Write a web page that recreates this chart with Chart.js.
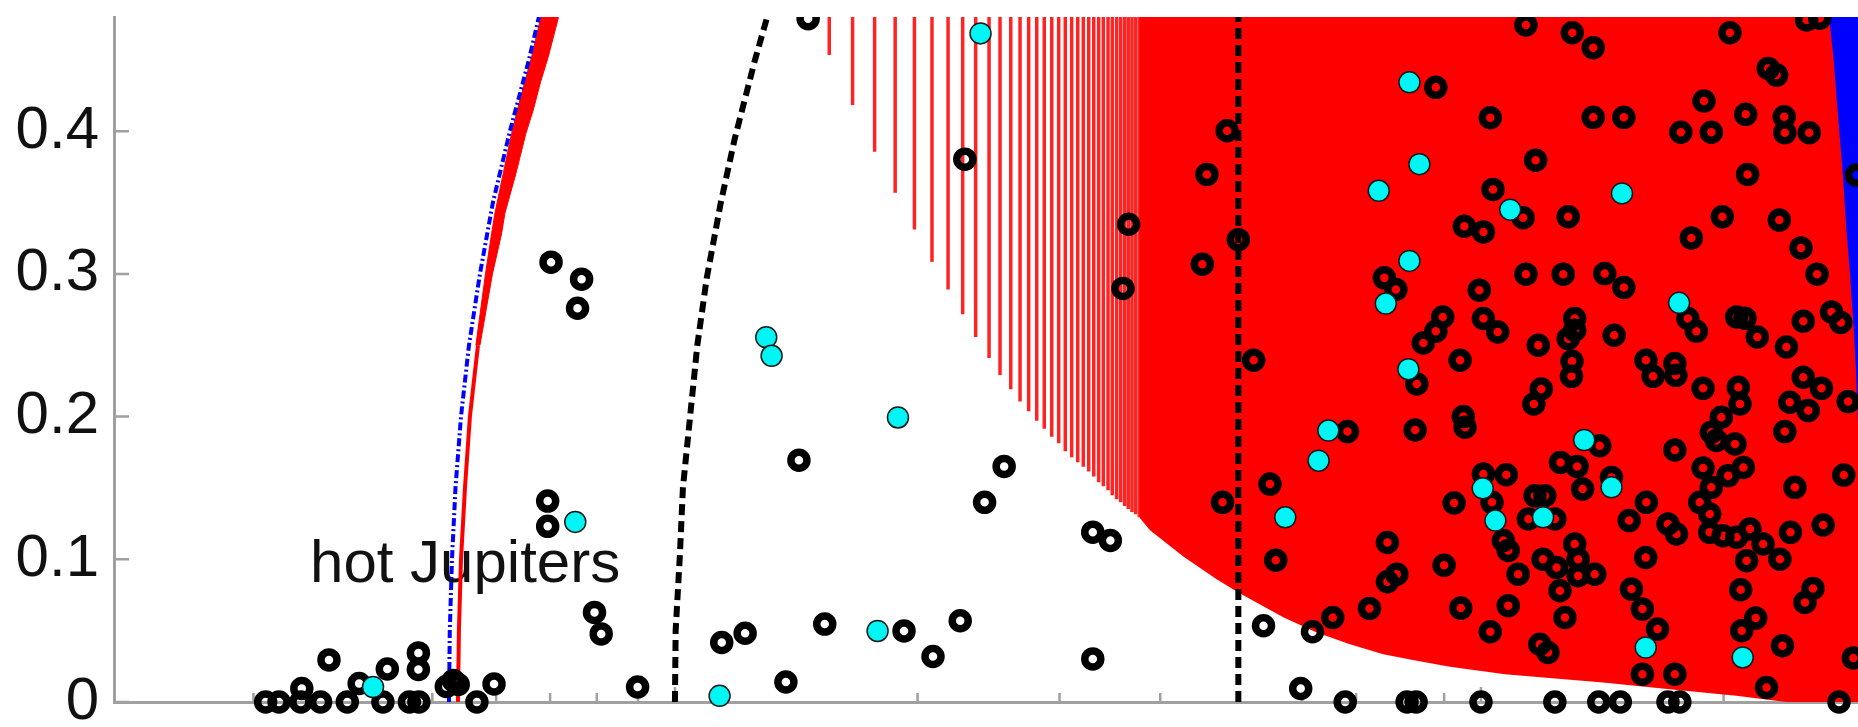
<!DOCTYPE html>
<html>
<head>
<meta charset="utf-8">
<script src="https://cdn.jsdelivr.net/npm/chart.js@4.4.1/dist/chart.umd.min.js"></script>
<style>
  html, body { margin: 0; padding: 0; background: #fff; }
</style>
</head>
<body>
<canvas id="eccChart" width="1858" height="727"></canvas>
<script>
// orbital period (days) and eccentricity
const blackPeriod = [
  3.106, 3.227, 3.435, 3.444, 3.634, 3.722, 3.922, 4.057, 4.342, 4.397,
  4.683, 4.812, 4.805, 4.805, 5.679, 5.964, 5.204, 5.309, 5.384, 6.952,
  6.952, 7.019, 7.659, 7.571, 7.947, 8.10, 8.988, 11.43, 12.22, 13.73,
  15.34, 19.24, 20.90, 22.59, 32.99, 32.99, 34.69, 24.22, 25.61, 14.25,
  14.63, 22.89, 36.55, 35.96, 45.11, 45.71, 48.42, 47.79, 50.0, 52.24,
  87.9, 102.7, 103.5, 95.36, 100.7, 75.88, 78.41, 99.53, 89.65, 87.9,
  84.81, 100.7, 104.9, 94.21, 53.73, 61.80, 59.75, 67.85, 80.97, 83.09,
  100.0, 65.48, 72.72, 54.73, 55.64, 68.29, 76.55, 76.55, 78.63, 82.85,
  95.08, 95.56, 90.0, 92.62, 94.39, 102.7, 100.7, 103.2, 83.25, 107.5,
  106.6, 108.1, 108.1, 113.7, 129.8, 137.8, 203.7, 253.5, 263.2, 227.2,
  232.7, 189.1, 137.8, 150.4, 177.0, 193.1, 213.0, 237.8, 238.2, 255.4,
  116.9, 214.2, 292.4, 112.8, 128.3, 199.3, 234.5, 182.4, 249.5, 261.2,
  113.7, 126.5, 142.4, 150.4, 180.6, 185.0, 207.6, 212.6, 220.2, 251.1,
  272.2, 279.5, 239.3, 130.7, 130.7, 128.3, 146.3, 117.8, 129.7, 160.2,
  174.0, 129.5, 163.5, 174.5, 188.6, 208.6, 251.1, 264.5, 285.5, 118.8,
  116.3, 209.6, 241.6, 254.7, 238.2, 140.4, 174.0, 198.7, 193.1, 195.9,
  206.6, 211.6, 188.6, 202.6, 193.1, 186.8, 192.2, 192.2, 199.7, 207.6,
  215.6, 223.9, 213.6, 234.9, 125.5, 131.6, 133.7, 145.2, 116.7, 120.0,
  114.5, 123.5, 130.7, 119.4, 124.1, 132.0, 132.0, 138.4, 111.2, 125.3,
  127.1, 118.3, 121.1, 160.4, 152.7, 170.6, 174.8, 160.1, 153.7, 158.6,
  165.6, 158.6, 174.0, 210.0, 219.2, 210.6, 226.1, 236.6, 252.3, 258.2,
  245.2, 242.1, 265.8, 281.9, 289.7, 123.5, 140.0, 148.9, 170.6, 176.5,
  278.1
];
const blackEcc = [
  0, 0, 0, 0.0095, 0, 0.0295, 0, 0.0130, 0, 0.0231,
  0, 0, 0.0344, 0.0228, 0, 0.0126, 0.0109, 0.0151, 0.0123, 0.1408,
  0.1231, 0.3082, 0.2963, 0.2759, 0.0628, 0.0477, 0.0105, 0.0417, 0.0482, 0.0140,
  0.0546, 0.0498, 0.0319, 0.0569, 0.0302, 0.1190, 0.1132, 0.1399, 0.1651, 0.1694,
  0.4788, 0.3804, 0.3348, 0.2898, 0.3068, 0.3697, 0.4003, 0.1399, 0.3240, 0.2395,
  0.4307, 0.4094, 0.3592, 0.3334, 0.3294, 0.2972, 0.2891, 0.2886, 0.2698, 0.2598,
  0.2516, 0.2687, 0.2593, 0.2395, 0.0534, 0.0492, 0.0095, 0, 0, 0,
  0, 0.0592, 0.0656, 0.1527, 0.0994, 0.1895, 0.1118, 0.0843, 0.0896, 0.1906,
  0.2000, 0.1925, 0.0959, 0.1394, 0.0658, 0.0492, 0.1597, 0.1399, 0.2229, 0.1592,
  0.1132, 0.1062, 0.0675, 0.4744, 0.4690, 0.4585, 0.4690, 0.4779, 0.4791, 0.4440,
  0.4393, 0.4211, 0.4097, 0.4097, 0.3992, 0.3992, 0.4118, 0.4101, 0.3989, 0.3989,
  0.3797, 0.3697, 0.3692, 0.3393, 0.3400, 0.3400, 0.3377, 0.3252, 0.3182, 0.2998,
  0.2998, 0.2998, 0.3002, 0.2905, 0.2687, 0.2598, 0.2698, 0.2689, 0.2558, 0.2668,
  0.2733, 0.2659, 0.2488, 0.2687, 0.2605, 0.2546, 0.2570, 0.2500, 0.2388, 0.2395,
  0.2372, 0.2282, 0.2282, 0.2289, 0.2198, 0.2205, 0.2276, 0.2198, 0.2105, 0.2193,
  0.2088, 0.2088, 0.2100, 0.2042, 0.1895, 0.1796, 0.1766, 0.1995, 0.1890, 0.1832,
  0.1808, 0.1644, 0.1640, 0.1586, 0.1504, 0.1399, 0.1317, 0.1189, 0.1165, 0.1154,
  0.1212, 0.1107, 0.0990, 0.1001, 0.1679, 0.1651, 0.1492, 0.1574, 0.1446, 0.1446,
  0.1282, 0.1282, 0.1107, 0.1001, 0.0943, 0.1001, 0.0885, 0.0896, 0.0896, 0.0780,
  0.0592, 0.0405, 0.0347, 0.1399, 0.1271, 0.1247, 0.1177, 0.1013, 0.0791, 0.0651,
  0.0511, 0.0195, 0.0195, 0.0787, 0.0588, 0.0499, 0.0102, 0.0394, 0.0698, 0.0796,
  0.1504, 0.1189, 0.1240, 0.1590, 0.0309, 0, 0, 0, 0, 0,
  0
];

const cyanPeriod = [
  4.221, 7.522, 11.36, 17.84, 18.91, 12.98, 13.18, 23.94, 81.51, 83.87,
  74.67, 81.51, 76.19, 81.27, 108.7, 57.17, 62.88, 64.66, 100.5, 104.2,
  149.6, 176.1, 134.3, 145.2, 119.4, 160.1, 211.2
];
const cyanEcc = [
  0.0105, 0.1262, 0.0043, 0.0498, 0.1994, 0.2556, 0.2426, 0.4685, 0.4342, 0.3769,
  0.3582, 0.3091, 0.2792, 0.2332, 0.3450, 0.1294, 0.1691, 0.1902, 0.1497, 0.1271,
  0.3564, 0.2797, 0.1836, 0.1504, 0.1294, 0.0382, 0.0312
];

// boundary curves
const bluePeriod = [5.244, 5.256, 5.289, 5.342, 5.427, 5.552, 5.729, 5.945, 6.241, 6.589, 6.780];
const blueEcc = [0, 0.05, 0.1, 0.15, 0.2, 0.25, 0.3, 0.35, 0.4, 0.45, 0.48];

const redPeriod = [5.380, 5.395, 5.427, 5.489, 5.567, 5.697];
const redEcc = [0, 0.05, 0.1, 0.15, 0.2, 0.25];

// upper part of the red curve widens into a band: left edge going up, right edge coming down
const redBandPeriod = [
  5.663, 5.820, 5.923, 5.979, 6.123, 6.272, 6.422, 6.641, 6.813, 6.87,
  7.2, 7.165, 6.964, 6.813, 6.671, 6.533, 6.349, 6.152, 6.095, 5.937, 5.729
];
const redBandEcc = [
  0.25, 0.3, 0.3283, 0.3424, 0.3704, 0.3985, 0.4218, 0.4522, 0.4791, 0.49,
  0.49, 0.4791, 0.4522, 0.4346, 0.4148, 0.3985, 0.3704, 0.3424, 0.3283, 0.3, 0.25
];

const dashPeriod = [10.0, 10.02, 10.14, 10.23, 10.44, 10.66, 10.95, 11.4, 11.86, 12.57, 13.0];
const dashEcc = [0, 0.05, 0.102, 0.15, 0.1995, 0.25, 0.297, 0.35, 0.3945, 0.45, 0.479];

const cutoffPeriod = 50;

// hatched part of the red zone: one stripe per period, from its lower eccentricity up
const stripePeriod = [
  15.54, 16.61, 17.69, 18.76, 19.82, 20.84, 21.82, 22.75, 23.61, 24.53,
  25.31, 26.10, 26.80, 27.47, 28.11, 28.72, 29.34, 29.93, 30.50, 31.06,
  31.60, 32.11, 32.61, 33.08, 33.55, 34.00, 34.46, 34.88, 35.32, 35.73,
  36.14, 36.51, 36.90, 37.29, 37.68
];
const stripeEcc = [
  0.4534, 0.4183, 0.3856, 0.3568, 0.3311, 0.3084, 0.2891, 0.2717, 0.2558, 0.2410,
  0.2292, 0.2191, 0.2105, 0.2037, 0.1971, 0.1914, 0.1858, 0.1813, 0.1757, 0.1715,
  0.1680, 0.1648, 0.1616, 0.1581, 0.1539, 0.1511, 0.1483, 0.1448, 0.1420, 0.1399,
  0.1374, 0.1353, 0.1332, 0.1315, 0.1294
];

const redZonePeriod = [37.68, 38.85, 42.73, 47.00, 50.0, 56.85, 62.55, 68.77, 75.65, 83.24, 91.53, 107.1, 141.7, 171.5, 207.4, 239.0, 293.6];
const redZoneEcc = [0.1294, 0.1203, 0.1020, 0.0861, 0.0768, 0.0593, 0.0487, 0.0405, 0.0335, 0.0289, 0.0247, 0.0195, 0.0137, 0.0090, 0.0043, 0, 0];

const blueZonePeriod = [270.3, 273.4, 275.9, 279.1, 281.3, 283.9, 287.2, 290.0, 291.9, 293.6];
const blueZoneEcc = [0.48, 0.4548, 0.4267, 0.3917, 0.3678, 0.3327, 0.2977, 0.2626, 0.2325, 0.194];

const yTicks = [0, 0.1, 0.2, 0.3, 0.4];
const yTickLabels = ['0', '0.1', '0.2', '0.3', '0.4'];
const xTicks = [3, 4, 5, 6, 7, 8, 9, 10, 20, 30, 40, 50, 60, 70, 80, 90, 100, 200];

const noteText = 'hot Jupiters';
const notePeriod = 3.526;
const noteEcc = 0.0838;

const axisGray = '#a0a0a0';
const fontFamily = '"Liberation Sans", Arial, Helvetica, sans-serif';

const toPoints = (xs, ys) => xs.map((x, i) => ({ x: x, y: ys[i] }));

function curve(label, xs, ys, style) {
  return Object.assign({
    label: label,
    data: toPoints(xs, ys),
    showLine: true,
    fill: false,
    pointRadius: 0,
    pointHoverRadius: 0,
    tension: 0,
    borderCapStyle: 'butt',
    clip: 0
  }, style);
}

const pointClip = { left: false, top: 0, right: 0, bottom: false };

const datasets = [
  {
    label: 'cyan',
    data: toPoints(cyanPeriod, cyanEcc),
    showLine: false,
    pointRadius: 10.5,
    pointBackgroundColor: '#00f5f5',
    pointBorderColor: '#1a1a1a',
    pointBorderWidth: 1.5,
    clip: pointClip
  },
  {
    label: 'planets',
    data: toPoints(blackPeriod, blackEcc),
    showLine: false,
    pointRadius: 8,
    pointBackgroundColor: 'rgba(0,0,0,0)',
    pointBorderColor: '#000',
    pointBorderWidth: 7.5,
    clip: pointClip
  },
  curve('circ', dashPeriod, dashEcc, { borderColor: '#000', borderWidth: 6, borderDash: [11, 6] }),
  curve('cutoff', [cutoffPeriod, cutoffPeriod], [0, 0.48], { borderColor: '#000', borderWidth: 6, borderDash: [11, 6] }),
  curve('blue', bluePeriod, blueEcc, { borderColor: '#0000ff', borderWidth: 4, borderDash: [8, 3, 2, 3] }),
  curve('red', redPeriod, redEcc, { borderColor: '#ff0000', borderWidth: 4 }),
  curve('redBand', redBandPeriod, redBandEcc, { borderColor: '#ff0000', borderWidth: 1, fill: 'shape', backgroundColor: '#ff0000' }),
  curve('blueZone', blueZonePeriod, blueZoneEcc, { borderWidth: 0, borderColor: '#0000ff', fill: 'end', backgroundColor: '#0000ff' }),
  curve('redZone', redZonePeriod, redZoneEcc, { borderWidth: 0, borderColor: '#ff0000', fill: 'end', backgroundColor: '#ff0000' })
];

stripePeriod.forEach((p, i) => {
  datasets.push(curve('stripe' + i, [p, p], [stripeEcc[i], 0.48], { borderColor: '#ff2424', borderWidth: 3.5 }));
});

const decorations = {
  id: 'decorations',
  beforeDatasetsDraw(chart) {
    const { ctx, chartArea, scales } = chart;
    const x = scales.x, y = scales.y;
    ctx.save();
    ctx.strokeStyle = axisGray;
    ctx.lineWidth = 2.5;
    ctx.beginPath();
    yTicks.forEach(v => {
      const py = y.getPixelForValue(v);
      ctx.moveTo(chartArea.left, py);
      ctx.lineTo(chartArea.left + 15, py);
    });
    xTicks.forEach(v => {
      const px = x.getPixelForValue(v);
      const major = Number.isInteger(Math.log10(v));
      ctx.moveTo(px, chartArea.bottom);
      ctx.lineTo(px, chartArea.bottom - (major ? 15 : 9));
    });
    ctx.stroke();

    ctx.fillStyle = '#111';
    ctx.font = '60px ' + fontFamily;
    ctx.textAlign = 'left';
    ctx.textBaseline = 'alphabetic';
    ctx.fillText(noteText, x.getPixelForValue(notePeriod), y.getPixelForValue(noteEcc));
    ctx.restore();
  }
};

new Chart(document.getElementById('eccChart'), {
  type: 'line',
  data: { datasets: datasets },
  options: {
    responsive: false,
    animation: false,
    events: [],
    layout: { autoPadding: false, padding: { top: 17, left: 0, right: 0, bottom: 0 } },
    plugins: { legend: { display: false }, tooltip: { enabled: false } },
    scales: {
      x: {
        type: 'logarithmic',
        min: 2.014,
        max: 293.6,
        afterBuildTicks: s => { s.ticks = xTicks.map(v => ({ value: v })); },
        ticks: { display: false },
        grid: { display: true, drawOnChartArea: false, drawTicks: false },
        border: { display: true, color: axisGray, width: 3 },
        afterFit: s => { s.height = 25; s.paddingLeft = 0; s.paddingRight = 0; }
      },
      y: {
        type: 'linear',
        min: 0,
        max: 0.48,
        afterBuildTicks: s => { s.ticks = yTicks.map(v => ({ value: v })); },
        ticks: {
          color: '#111',
          padding: 15,
          font: { family: fontFamily, size: 60 },
          callback: (v, i) => yTickLabels[i]
        },
        grid: { display: true, drawOnChartArea: false, drawTicks: false },
        border: { display: true, color: axisGray, width: 3 },
        afterFit: s => { s.width = 114; s.paddingTop = 0; s.paddingBottom = 0; }
      }
    }
  },
  plugins: [decorations]
});
</script>
</body>
</html>
